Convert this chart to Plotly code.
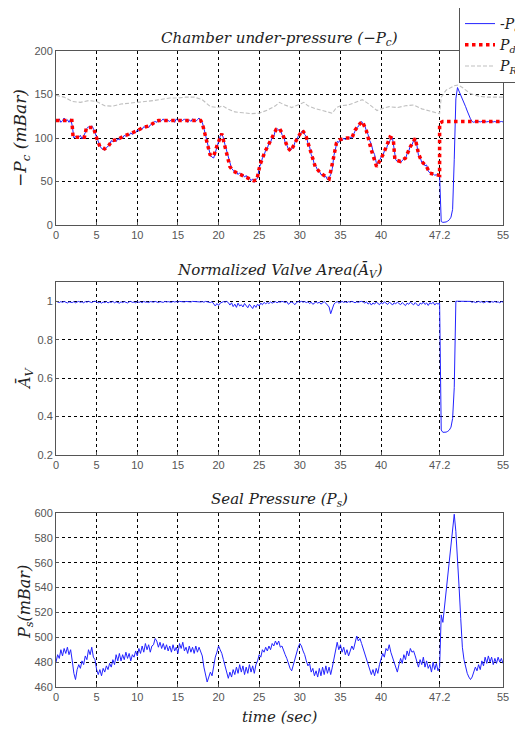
import numpy as np
import plotly.graph_objects as go

# ---------------- data ----------------
x_ticks = [0, 5, 10, 15, 20, 25, 30, 35, 40, 47.2, 55]
x_tick_labels = ["0", "5", "10", "15", "20", "25", "30", "35", "40", "47.2", "55"]

# sampling grid of the measured signals (0.2 s)
t_meas = np.round(np.arange(0, 55.01, 0.2), 1)

# Chamber under-pressure -Pc (mBar), measured
pc_meas = [
    121, 119, 122, 118, 120, 123, 119, 121, 118, 122,
    114, 100, 102, 100, 101, 103, 99, 102, 106, 111,
    113, 111, 114, 111, 106, 101, 94, 91, 88, 87,
    86, 89, 91, 92, 97, 96, 99, 96, 99, 98,
    101, 100, 103, 102, 105, 103, 106, 104, 107, 106,
    109, 108, 111, 110, 113, 112, 114, 112, 115, 116,
    118, 119, 118, 121, 119, 120, 122, 119, 121, 120,
    119, 121, 120, 118, 122, 120, 119, 121, 120, 122,
    120, 118, 121, 119, 122, 120, 119, 121, 123, 119,
    118, 111, 103, 95, 88, 80, 78, 77, 83, 89,
    97, 102, 105, 100, 92, 85, 76, 69, 65, 63,
    60, 62, 58, 60, 57, 58, 55, 57, 53, 54,
    51, 53, 49, 52, 54, 66, 70, 77, 80, 86,
    88, 94, 95, 101, 102, 109, 111, 109, 110, 104,
    102, 95, 92, 87, 85, 88, 89, 95, 97, 102,
    105, 106, 109, 104, 102, 94, 90, 81, 77, 69,
    67, 63, 62, 58, 58, 55, 56, 52, 54, 58,
    65, 80, 88, 96, 95, 99, 97, 100, 98, 101,
    99, 101, 100, 105, 108, 112, 113, 117, 119, 116,
    114, 108, 104, 97, 93, 85, 81, 72, 70, 74,
    78, 79, 85, 86, 92, 94, 101, 100, 86, 75,
    73, 75, 72, 74, 76, 76, 82, 85, 91, 92,
    97, 99, 92, 80, 78, 72, 73, 68, 69, 62,
    60, 58, 59, 57, 58, 56,
    57,
    4, 3, 3, 3.5, 4.5, 6, 9, 18, 75, 145,
    158, 154, 150, 146, 141, 136, 131, 126, 122, 119,
    118, 119, 118, 119, 118.5, 119, 118, 119, 118.5, 119,
    118, 119, 118.5, 119, 118, 119, 118.5, 119, 118.5,
]

# Desired pressure Pd (mBar)
t_pd = [0, 1.95, 2.1, 3.5, 3.75, 4.6, 5.0, 5.4, 6.0, 6.4, 6.9, 7.5, 8.3, 9.1, 9.9,
        10.7, 11.5, 12.3, 12.6, 17.8, 18.0, 18.5, 18.95, 19.4, 19.8, 20.4, 20.8,
        21.4, 21.8, 22.6, 23.4, 24.3, 24.7, 25.1, 25.7, 26.5, 27.1, 27.5, 27.9,
        28.5, 28.9, 29.6, 30.3, 30.7, 31.3, 31.9, 32.5, 33.3, 33.6, 34.1, 34.5,
        34.9, 35.8, 36.4, 36.8, 37.4, 37.7, 38.2, 38.8, 39.45, 40.3, 41.1, 41.5,
        41.7, 42.4, 43.0, 43.6, 44.2, 44.6, 45.0, 45.6, 46.0, 47.2, 47.2, 47.6, 55]
pd_vals = [120, 120, 101, 101, 112, 112, 100, 90, 87.5, 90, 97, 98, 102, 104.6, 108,
           112, 114, 119, 120, 120, 117, 98, 81, 79, 91, 105, 91,
           67, 62, 58.6, 55, 51, 51.5, 69, 84, 98, 110, 111, 104,
           89, 85, 98, 109, 104, 86, 67, 60, 54, 53, 75, 94,
           98, 100, 100, 109, 116.5, 119, 108, 86, 67, 82, 101, 99,
           75, 73, 77, 90, 99.6, 82, 73, 67, 59.5, 57, 117, 119, 119]

# Reference pressure PR (mBar)
t_pr = [0, 1, 2, 3, 4, 5, 6, 7, 8, 10, 12, 14, 15, 16, 17, 18, 19, 20, 20.5, 21, 22,
        23, 24, 25, 26, 27, 27.5, 28, 29, 30, 30.5, 31, 32, 33, 34, 34.5, 35, 36, 37,
        37.7, 38.5, 39.5, 40, 41, 42, 43, 44, 45, 46, 47.2, 47.4, 48, 49, 49.5, 50,
        51, 52, 53, 55]
pr_vals = [149, 147, 142, 141, 143, 142, 137, 136.6, 139, 141, 143, 146, 146, 147, 147,
           144, 136, 135, 137, 134, 130, 129, 128, 128.5, 132, 137, 141, 138.5, 135, 139,
           141, 137, 133.5, 131, 128.5, 135, 137, 138, 141, 144, 139, 131.6, 133.5, 136,
           135, 137, 138, 133.5, 131, 128, 147, 155, 160, 161, 158, 151, 148, 147, 147]

# Normalized valve area
av_vals = [
    1.0, 0.997, 0.993, 0.998, 0.994, 0.999, 0.995, 0.991, 0.997, 0.996,
    0.993, 0.998, 0.992, 0.996, 0.999, 0.994, 0.997, 0.992, 0.998, 0.995,
    0.999, 0.996, 0.993, 0.998, 1.0, 0.997, 0.992, 0.995, 0.99, 0.996,
    0.993, 0.998, 0.991, 0.996, 0.994, 0.999, 0.992, 0.997, 0.995, 0.99,
    0.997, 0.993, 0.998, 0.995, 0.991, 0.997, 0.999, 0.994, 0.996, 0.992,
    0.998, 0.994, 0.997, 0.992, 0.999, 0.995, 0.996, 0.993, 0.998, 0.997,
    0.995, 0.999, 0.996, 0.993, 0.998, 0.997, 0.994, 0.999, 0.996, 0.998,
    0.997, 0.994, 0.999, 0.996, 0.998, 0.995, 0.999, 0.997, 0.998, 0.996,
    0.999, 0.997, 0.998, 0.996, 0.999, 0.998, 0.997, 0.999, 0.998, 0.996,
    0.998, 0.995, 0.999, 0.996, 0.997, 0.993, 0.998, 0.985, 0.975, 0.988,
    0.978, 0.99, 0.996, 0.998, 0.995, 0.999, 0.993, 0.98, 0.992, 0.972,
    0.985, 0.968, 0.99, 0.975, 0.982, 0.97, 0.988, 0.976, 0.966, 0.984,
    0.972, 0.962, 0.98, 0.968, 0.985, 0.975, 0.99, 0.982, 0.994, 0.987,
    0.993, 0.988, 0.996, 0.99, 0.994, 0.998, 0.992, 0.997, 0.995, 0.999,
    0.997, 0.993, 0.998, 0.984, 0.992, 0.996, 0.99, 0.982, 0.994, 0.998,
    0.996, 0.999, 0.995, 0.998, 0.993, 0.997, 0.988, 0.995, 0.984, 0.993,
    0.997, 0.99, 0.995, 0.985, 0.993, 0.998, 0.99, 0.982, 0.97, 0.935,
    0.965, 0.985, 0.993, 0.998, 0.99, 0.996, 0.999, 0.994, 0.997, 0.993,
    0.998, 0.995, 0.999, 0.996, 0.992, 0.997, 0.994, 0.998, 0.999, 0.996,
    0.99, 0.997, 0.985, 0.993, 0.98, 0.991, 0.985, 0.996, 0.988, 0.982,
    0.993, 0.986, 0.997, 0.989, 0.983, 0.994, 0.99, 0.98, 0.992, 0.986,
    0.996, 0.988, 0.982, 0.993, 0.987, 0.977, 0.99, 0.984, 0.995, 0.988,
    0.981, 0.993, 0.986, 0.975, 0.99, 0.985, 0.996, 0.983, 0.991, 0.978,
    0.992, 0.986, 0.995, 0.98, 0.99, 0.985,
    0.99,
    0.33, 0.318, 0.317, 0.319, 0.323, 0.33, 0.345, 0.39, 0.55, 1.0,
    1.0, 1.0, 1.0, 1.0, 1.0, 1.0, 1.0, 0.997, 0.999, 0.994,
    0.998, 0.993, 0.997, 0.999, 0.995, 0.998, 0.992, 0.997, 0.999, 0.996,
    0.993, 0.998, 0.995, 0.999, 0.994, 0.997, 0.992, 0.998, 0.996,
]

# Seal pressure Ps (mBar)
ps_vals = [
    480, 486, 483, 490, 485, 491, 487, 492, 486, 490,
    481, 471, 466, 474, 478, 475, 481, 478, 485, 482,
    490, 486, 492, 484, 482, 474, 470, 474, 469, 475,
    472, 477, 474, 479, 476, 482, 478, 486, 481, 487,
    481, 486, 482, 488, 483, 487, 481, 486, 484, 489,
    485, 491, 487, 493, 488, 495, 490, 494, 488, 493,
    494, 499, 497, 492, 496, 491, 495, 490, 494, 489,
    493, 488, 494, 489, 492, 487, 495, 491, 496, 489,
    492, 487, 493, 488, 492, 487, 493, 488, 492, 489,
    485, 476, 470, 464, 468, 472, 469, 478, 484, 488,
    493, 490, 487, 482, 477, 473, 467, 472, 468, 474,
    470, 476, 471, 478, 472, 477, 470, 476, 471, 478,
    472, 477, 471, 478, 481, 486, 484, 490, 488, 492,
    489, 493, 490, 495, 493, 497, 494, 497, 492, 493,
    489, 486, 483, 479, 475, 473, 478, 482, 487, 492,
    495, 493, 489, 486, 481, 477, 479, 472, 475, 469,
    473, 468, 475, 469, 476, 470, 477, 471, 476, 470,
    476, 483, 492, 496, 490, 494, 488, 492, 486, 490,
    485, 489, 493, 490, 496, 501, 497, 499, 495, 491,
    487, 482, 478, 474, 470, 474, 469, 475, 471, 478,
    483, 487, 484, 491, 489, 494, 488, 484, 480, 477,
    472, 478, 483, 479, 486, 482, 489, 485, 491, 488,
    489, 485, 480, 476, 482, 478, 484, 476, 481, 475,
    478, 472, 480, 474, 479, 473,
    476,
    518, 512, 524, 538, 550, 562, 574, 587, 599, 585,
    565, 540, 515, 492, 482, 476, 471, 468, 466, 468,
    472, 476, 473, 478, 474, 481, 477, 484, 479, 485,
    480, 484, 478, 483, 479, 484, 480, 483, 479,
]

assert len(pc_meas) == len(t_meas) == len(av_vals) == len(ps_vals)
assert len(t_pd) == len(pd_vals) and len(t_pr) == len(pr_vals)

# ---------------- figure ----------------
BLUE = "rgb(35,35,255)"
SERIF = "DejaVu Serif"
SANS = "Liberation Sans"

# the page has an 8px body margin; figure sized to fit the window
OFF = 8
W, H = 523 - OFF, 729 - OFF
PLOT_L, PLOT_R = 56 - OFF, 503 - OFF          # plot x extent (figure px)
PLOT_T, PLOT_B = 51 - OFF, 687 - OFF          # overall plot y extent (figure px)
ML, MR, MT, MB = PLOT_L, W - PLOT_R, PLOT_T, H - PLOT_B
PW, PH = PLOT_R - PLOT_L, PLOT_B - PLOT_T


def yp(page_y):
    """page pixel y -> paper coordinate"""
    return (PLOT_B - (page_y - OFF)) / PH


def xp(page_x):
    """page pixel x -> paper coordinate"""
    return ((page_x - OFF) - PLOT_L) / PW


fig = go.Figure()

fig.add_trace(go.Scatter(x=t_pr, y=pr_vals, mode="lines", name="<i>P<sub>R</sub></i>",
                         line=dict(color="#bfbfbf", width=1.1, dash="4px,2px"),
                         xaxis="x", yaxis="y", legendrank=3))
fig.add_trace(go.Scatter(x=t_meas, y=pc_meas, mode="lines", name="-<i>P<sub>c</sub></i>",
                         line=dict(color=BLUE, width=1),
                         xaxis="x", yaxis="y", legendrank=1))
fig.add_trace(go.Scatter(x=t_pd, y=pd_vals, mode="lines", name="<i>P<sub>d</sub></i>",
                         line=dict(color="red", width=3.5, dash="dot"),
                         xaxis="x", yaxis="y", legendrank=2))
fig.add_trace(go.Scatter(x=t_meas, y=av_vals, mode="lines", showlegend=False,
                         line=dict(color=BLUE, width=1), xaxis="x2", yaxis="y2"))
fig.add_trace(go.Scatter(x=t_meas, y=ps_vals, mode="lines", showlegend=False,
                         line=dict(color=BLUE, width=1), xaxis="x3", yaxis="y3"))

tickfont = dict(family=SANS, size=11, color="#555555")
axis_common = dict(showline=True, mirror=True, linecolor="#555555", linewidth=1,
                   showgrid=True, gridcolor="black", griddash="dot", gridwidth=1,
                   zeroline=False, ticks="inside", ticklen=3, tickcolor="#555555",
                   tickfont=tickfont)
xcommon = dict(axis_common, range=[0, 55], tickmode="array", tickvals=x_ticks,
               ticktext=x_tick_labels)

fig.update_layout(
    width=W, height=H,
    margin=dict(l=ML, r=MR, t=MT, b=MB, autoexpand=False),
    paper_bgcolor="white", plot_bgcolor="white",
    xaxis=dict(xcommon, anchor="y"),
    xaxis2=dict(xcommon, anchor="y2"),
    xaxis3=dict(xcommon, anchor="y3"),
    yaxis=dict(axis_common, range=[0, 200], tickvals=[0, 50, 100, 150, 200],
               domain=[yp(225), yp(51)], anchor="x"),
    yaxis2=dict(axis_common, range=[0.2, 1.1], tickvals=[0.2, 0.4, 0.6, 0.8, 1],
                ticktext=["0.2", "0.4", "0.6", "0.8", "1"],
                domain=[yp(455), yp(282)], anchor="x2"),
    yaxis3=dict(axis_common, range=[460, 600], tickvals=list(range(460, 601, 20)),
                domain=[yp(687), yp(513)], anchor="x3"),
    showlegend=True,
    legend=dict(x=xp(459), y=yp(7), xanchor="left", yanchor="top",
                bgcolor="white", bordercolor="#555555", borderwidth=1,
                font=dict(family=SERIF, size=14, color="#222222"),
                tracegroupgap=0, itemwidth=30),
)

title_font = dict(family=SERIF, size=15, color="#222222", style="italic")
xc = xp((56 + 503) / 2)
ann = [
    dict(text="Chamber under-pressure (−<i>P<sub>c</sub></i>)", x=xc, y=yp(38)),
    dict(text="Normalized Valve Area(<i>Ā<sub>V</sub></i>)", x=xc, y=yp(270)),
    dict(text="Seal Pressure (<i>P<sub>s</sub></i>)", x=xc, y=yp(499)),
    dict(text="time (sec)", x=xc, y=yp(717)),
]
for a in ann:
    fig.add_annotation(xref="paper", yref="paper", showarrow=False,
                       xanchor="center", yanchor="middle", font=title_font, **a)

ylabs = [
    dict(text="−<i>P<sub>c</sub></i> (<i>mBar</i>)", x=xp(21), y=yp(138), size=17),
    dict(text="<i>Ā<sub>V</sub></i>", x=xp(25), y=yp(378), size=16),
    dict(text="<i>P<sub>s</sub></i>(<i>mBar</i>)", x=xp(25), y=yp(602), size=16),
]
for a in ylabs:
    fig.add_annotation(xref="paper", yref="paper", showarrow=False, textangle=-90,
                       xanchor="center", yanchor="middle", text=a["text"],
                       x=a["x"], y=a["y"],
                       font=dict(family=SERIF, size=a["size"], color="#222222",
                                 style="italic"))

fig.write_html("out.html")
